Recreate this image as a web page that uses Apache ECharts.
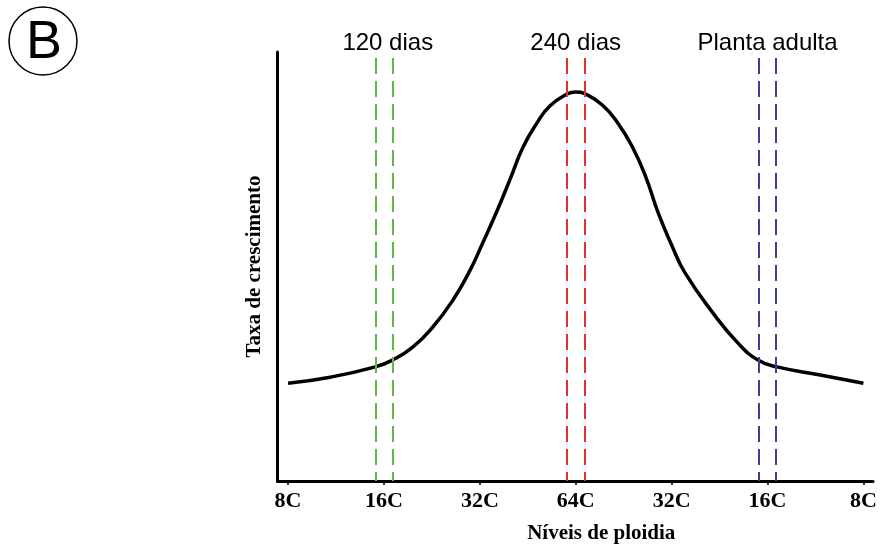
<!DOCTYPE html>
<html>
<head>
<meta charset="utf-8">
<script src="https://cdn.jsdelivr.net/npm/echarts@6/dist/echarts.min.js"></script>
<style>html,body{margin:0;padding:0;background:#fff}#c{width:880px;height:544px}</style>
</head>
<body>
<div id="c"></div>
<script>
// Ploidy positions (0..6) and their tick labels
const tickValues = [0, 1, 2, 3, 4, 5, 6];
const tickLabels = ['8C', '16C', '32C', '64C', '32C', '16C', '8C'];

// Growth-rate curve (x = ploidy position, y = relative rate 0..100)
const curveX = [0, 0.44, 0.91, 1.09, 1.30, 1.51, 1.72, 1.90, 2.03, 2.18, 2.32, 2.45, 2.60, 2.73, 2.91, 3.0, 3.10, 3.28, 3.44, 3.59, 3.73, 3.86, 4.01, 4.14, 4.43, 4.69, 4.90, 5.10, 5.55, 6.0];
const curveY = [22.8, 24.2, 26.6, 28.2, 31.2, 35.9, 42.2, 49.2, 55.5, 63.0, 70.6, 77.8, 83.6, 87.4, 90.2, 90.7, 90.2, 87.6, 83.4, 77.9, 70.9, 62.5, 54.5, 48.5, 39.2, 32.2, 28.2, 26.6, 24.7, 22.8];

// Stage markers: dashed line pairs
const stageNames = ['120 dias', '240 dias', 'Planta adulta'];
const stageLines = [[0.91, 1.09], [2.91, 3.09], [4.91, 5.09]];
const stageLabelX = [1.04, 3.0, 5.0];
const stageColors = ['#5fb847', '#e3322e', '#3b3f99'];
const lineTop = 98.6;
const labelY = 101.9;

const chart = echarts.init(document.getElementById('c'));

const markData = [];
stageLines.forEach((pair, i) => {
  pair.forEach(x => {
    markData.push([
      { coord: [x, lineTop], lineStyle: { color: stageColors[i] } },
      { coord: [x, 0] }
    ]);
  });
});

const serif = "'Liberation Serif', 'Times New Roman', serif";
const sans = "'Liberation Sans', Arial, sans-serif";

chart.setOption({
  animation: false,
  backgroundColor: '#fff',
  grid: { left: 277.5, right: 7, top: 52, bottom: 63, outerBoundsMode: 'none', containLabel: false },
  xAxis: {
    type: 'value',
    min: -0.11,
    max: 6.1,
    splitLine: { show: false },
    axisLine: { show: true, onZero: false, lineStyle: { color: '#000', width: 3 } },
    axisTick: { show: true, customValues: tickValues, length: 4, lineStyle: { color: '#000', width: 1.5 } },
    axisLabel: {
      show: true,
      customValues: tickValues,
      margin: 9,
      formatter: (v) => tickLabels[Math.round(v)],
      color: '#000', fontFamily: serif, fontWeight: 'bold', fontSize: 22
    },
    name: 'Níveis de ploidia',
    nameLocation: 'middle',
    nameGap: 42,
    nameTextStyle: { color: '#000', fontFamily: serif, fontWeight: 'bold', fontSize: 21, padding: [0, 0, 0, 52] }
  },
  yAxis: {
    type: 'value',
    min: 0,
    max: 100,
    splitLine: { show: false },
    axisLine: { show: true, onZero: false, lineStyle: { color: '#000', width: 3 } },
    axisTick: { show: false },
    axisLabel: { show: false },
    name: 'Taxa de crescimento',
    nameLocation: 'middle',
    nameGap: 12,
    nameTextStyle: { color: '#000', fontFamily: serif, fontWeight: 'bold', fontSize: 21 }
  },
  series: [
    {
      type: 'line',
      data: curveX.map((x, i) => [x, curveY[i]]),
      smooth: 0.5,
      symbol: 'none',
      lineStyle: { color: '#000', width: 3.5 },
      z: 3,
      markLine: {
        silent: true,
        symbol: ['none', 'none'],
        label: { show: false },
        lineStyle: { type: [16, 7], width: 2 },
        data: markData
      }
    },
    {
      type: 'scatter',
      clip: false,
      symbolSize: 0,
      itemStyle: { opacity: 1 },
      data: stageNames.map((n, i) => [stageLabelX[i], labelY, n]),
      label: {
        show: true,
        position: 'inside',
        formatter: (p) => p.data[2],
        color: '#000', fontFamily: sans, fontSize: 24
      }
    }
  ],
  graphic: [
    { type: 'circle', shape: { cx: 43, cy: 41, r: 34 }, style: { fill: 'none', stroke: '#000', lineWidth: 1.5 } },
    { type: 'text', x: 44, y: 43, style: { text: 'B', fontFamily: sans, fontSize: 54, fill: '#000', align: 'center', verticalAlign: 'middle' } }
  ]
});
</script>
</body>
</html>
